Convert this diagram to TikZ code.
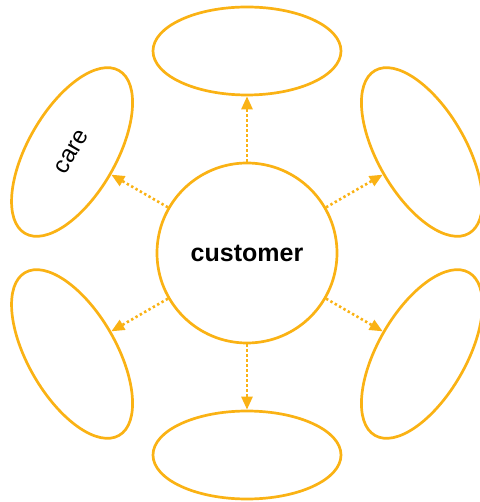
\documentclass[tikz,border=0pt]{standalone}
\usepackage{fontspec}
\setmainfont{Liberation Sans}
\usepackage{tikz}
\usetikzlibrary{arrows.meta}
\usetikzlibrary{shapes.geometric}
\definecolor{ringgold}{RGB}{250,178,20}
\tikzstyle{bubble}=[ellipse, draw=ringgold, line width=2.7pt, minimum width=188pt, minimum height=88pt, inner sep=0pt, font=\fontsize{24}{28}\selectfont]
\tikzstyle{hub}=[circle, draw=ringgold, line width=2.7pt, minimum size=180pt, inner sep=0pt, font=\bfseries\fontsize{25}{30}\selectfont]
\tikzset{dotarrow/.style={draw=ringgold, line width=2.6pt,
      dash pattern=on 2.4pt off 2.6pt,
      -{Triangle[length=13pt,width=11pt,fill=ringgold]}}}

\begin{document}
\begin{tikzpicture}[x=1pt,y=1pt]
		\useasboundingbox (-247,-249) rectangle (232,253);
		\node[hub] (cust) at (0,0) {customer};
		\foreach \a/\t [count=\i] in {90/, 150/care, 210/, 270/, 330/, 30/}
			\node[bubble, rotate=\a-90] (b\i) at (\a:202) {\t};
		\foreach \i in {1,...,6}
			\draw[dotarrow] (cust) -- (b\i);
		\end{tikzpicture}
\end{document}
